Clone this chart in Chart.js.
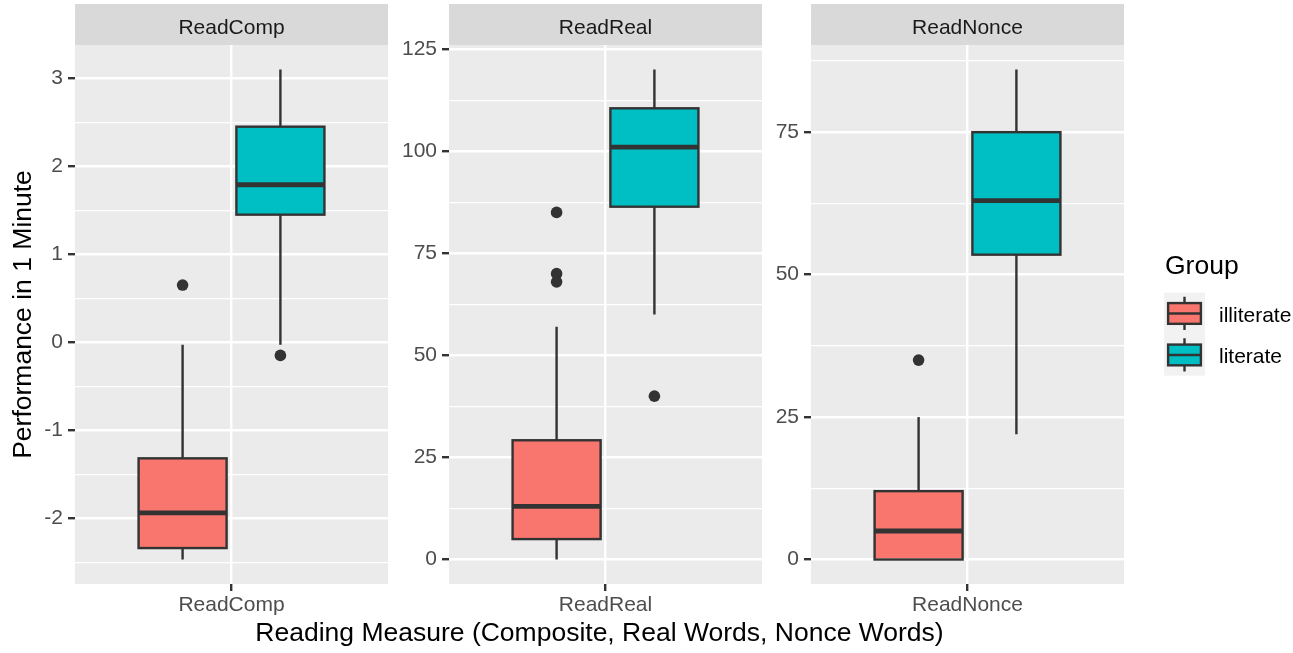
<!DOCTYPE html>
<html>
<head>
<meta charset="utf-8">
<title>Reading performance by literacy group</title>
<script src="https://cdn.jsdelivr.net/npm/chart.js@4.4.1/dist/chart.umd.min.js"></script>
<style>
  html, body { margin: 0; padding: 0; background: #ffffff; width: 1293px; height: 653px; overflow: hidden;
               font-family: "Liberation Sans", Arial, sans-serif; }
  canvas.panel { position: absolute; top: 0; }
  #xtitle { position: absolute; left: 0; top: 619px; width: 1199px; text-align: center;
            font-size: 26.5px; line-height: 26px; color: #000000; white-space: nowrap; }
</style>
</head>
<body>
<canvas id="panel0" class="panel" width="392" height="653" style="left:0px"></canvas>
<canvas id="panel1" class="panel" width="392" height="653" style="left:374px"></canvas>
<canvas id="panel2" class="panel" width="557" height="653" style="left:736px"></canvas>
<div id="xtitle">Reading Measure (Composite, Real Words, Nonce Words)</div>

<script>
// ---- data: one entry per reading measure ----
const measures = ['ReadComp', 'ReadReal', 'ReadNonce'];
const groups = ['illiterate', 'literate'];
const groupColors = ['#F8766D', '#00BFC4'];

// five-number summaries (whisker ends, quartiles, median) and outliers
const illiterateLow    = [-2.47, 0, 0];
const illiterateQ1     = [-2.34, 5, 0];
const illiterateMedian = [-1.94, 13, 5];
const illiterateQ3     = [-1.32, 29.2, 12];
const illiterateHigh   = [-0.03, 57, 25];
const illiterateOutliers = [[0.65], [85, 70, 68], [35]];

const literateLow    = [-0.03, 60, 22];
const literateQ1     = [1.45, 86.4, 53.5];
const literateMedian = [1.79, 101, 63];
const literateQ3     = [2.45, 110.5, 75];
const literateHigh   = [3.1, 120, 86];
const literateOutliers = [[-0.15], [40], []];

// labelled y breaks for each facet
const yTicks = [
  [-2, -1, 0, 1, 2, 3],
  [0, 25, 50, 75, 100, 125],
  [0, 25, 50, 75]
];

const yTitle = 'Performance in 1 Minute';
const legendTitle = 'Group';

// ---- look ----
Chart.defaults.font.family = '"Liberation Sans", Arial, sans-serif';
const FONT = '"Liberation Sans", Arial, sans-serif';
const INK = '#333333';
const LINE = 2.4;
const MEDIAN_LINE = 4.8;
const DOT_RADIUS = 5.8;

function summaries(i) {
  return [
    { low: illiterateLow[i], q1: illiterateQ1[i], med: illiterateMedian[i], q3: illiterateQ3[i], high: illiterateHigh[i], out: illiterateOutliers[i] },
    { low: literateLow[i], q1: literateQ1[i], med: literateMedian[i], q3: literateQ3[i], high: literateHigh[i], out: literateOutliers[i] }
  ];
}

// y limits: data range widened by 5% on each side
function yLimits(stats) {
  let lo = Infinity, hi = -Infinity;
  stats.forEach(s => {
    [s.low, s.high, ...s.out].forEach(v => { lo = Math.min(lo, v); hi = Math.max(hi, v); });
  });
  const pad = (hi - lo) * 0.05;
  return [lo - pad, hi + pad];
}

// major breaks plus half-step minor breaks inside the limits
function buildTicks(major, min, max) {
  const step = major[1] - major[0];
  const ticks = major.filter(v => v >= min && v <= max).map(v => ({ value: v }));
  for (let v = major[0] - step / 2; v <= max; v += step) {
    if (v >= min) ticks.push({ value: v, minor: true });
  }
  return ticks.sort((a, b) => a.value - b.value);
}

// panel background and facet strip
const facetPlugin = {
  id: 'facet',
  beforeDraw(chart, args, opts) {
    const { ctx, chartArea: a } = chart;
    ctx.save();
    ctx.fillStyle = '#EBEBEB';
    ctx.fillRect(a.left, a.top, a.right - a.left, a.bottom - a.top);
    ctx.fillStyle = '#D9D9D9';
    ctx.fillRect(a.left, 4, a.right - a.left, a.top - 4);
    ctx.fillStyle = '#1A1A1A';
    ctx.font = '21px ' + FONT;
    ctx.textAlign = 'center';
    ctx.textBaseline = 'alphabetic';
    ctx.fillText(opts.strip, (a.left + a.right) / 2, 33.5);
    ctx.restore();
  }
};

// whiskers, outliers, box outlines and medians on top of the floating bars
const boxPlugin = {
  id: 'boxDecor',
  beforeDatasetsDraw(chart, args, opts) {
    const { ctx } = chart;
    const y = chart.scales.y;
    ctx.save();
    ctx.strokeStyle = INK;
    ctx.fillStyle = INK;
    ctx.lineWidth = LINE;
    opts.stats.forEach((s, di) => {
      const el = chart.getDatasetMeta(di).data[0];
      ctx.beginPath();
      ctx.moveTo(el.x, y.getPixelForValue(s.high));
      ctx.lineTo(el.x, y.getPixelForValue(s.q3));
      ctx.moveTo(el.x, y.getPixelForValue(s.q1));
      ctx.lineTo(el.x, y.getPixelForValue(s.low));
      ctx.stroke();
      s.out.forEach(v => {
        ctx.beginPath();
        ctx.arc(el.x, y.getPixelForValue(v), DOT_RADIUS, 0, Math.PI * 2);
        ctx.fill();
      });
    });
    ctx.restore();
  },
  afterDatasetsDraw(chart, args, opts) {
    const { ctx } = chart;
    const y = chart.scales.y;
    ctx.save();
    ctx.strokeStyle = INK;
    opts.stats.forEach((s, di) => {
      const el = chart.getDatasetMeta(di).data[0];
      const half = el.width / 2;
      const top = y.getPixelForValue(s.q3);
      const bottom = y.getPixelForValue(s.q1);
      ctx.lineWidth = LINE;
      ctx.strokeRect(el.x - half, top, half * 2, bottom - top);
      ctx.lineWidth = MEDIAN_LINE;
      ctx.beginPath();
      const m = y.getPixelForValue(s.med);
      ctx.moveTo(el.x - half, m);
      ctx.lineTo(el.x + half, m);
      ctx.stroke();
    });
    ctx.restore();
  }
};

// fill legend with box glyphs, drawn in the right margin of the last panel
const legendPlugin = {
  id: 'groupLegend',
  afterDraw(chart, args, opts) {
    if (!opts.show) return;
    const { ctx } = chart;
    const ox = opts.originX;
    ctx.save();
    ctx.fillStyle = '#000000';
    ctx.font = '26.5px ' + FONT;
    ctx.textAlign = 'left';
    ctx.textBaseline = 'alphabetic';
    ctx.fillText(legendTitle, 1165 - ox, 273.5);
    const kx = 1164 - ox, kw = 41, kh = 41.5;
    groups.forEach((g, gi) => {
      const ky = 292.7 + gi * kh;
      ctx.fillStyle = '#F2F2F2';
      ctx.fillRect(kx, ky, kw, kh);
      const cx = kx + kw / 2;
      ctx.strokeStyle = INK;
      ctx.lineWidth = LINE;
      ctx.beginPath();
      ctx.moveTo(cx, ky + kh * 0.1); ctx.lineTo(cx, ky + kh * 0.25);
      ctx.moveTo(cx, ky + kh * 0.75); ctx.lineTo(cx, ky + kh * 0.9);
      ctx.stroke();
      ctx.fillStyle = groupColors[gi];
      const bx = kx + kw * 0.1, bw = kw * 0.8, by = ky + kh * 0.25, bh = kh * 0.5;
      ctx.fillRect(bx, by, bw, bh);
      ctx.strokeRect(bx, by, bw, bh);
      ctx.beginPath();
      ctx.moveTo(bx, ky + kh / 2); ctx.lineTo(bx + bw, ky + kh / 2);
      ctx.stroke();
      ctx.fillStyle = '#000000';
      ctx.font = '21px ' + FONT;
      ctx.fillText(g, 1219 - ox, ky + kh / 2 + 8.3);
    });
    ctx.restore();
  }
};

const canvasLeft = [0, 374, 736];
const rightPad = [4, 4, 169];

measures.forEach((measure, i) => {
  const stats = summaries(i);
  const [ymin, ymax] = yLimits(stats);
  const ticks = buildTicks(yTicks[i], ymin, ymax);

  new Chart(document.getElementById('panel' + i), {
    type: 'bar',
    data: {
      labels: [measure],
      datasets: groups.map((g, gi) => ({
        label: g,
        data: [[stats[gi].q1, stats[gi].q3]],
        backgroundColor: groupColors[gi],
        borderWidth: 0,
        categoryPercentage: 0.625,
        barPercentage: 0.9
      }))
    },
    plugins: [facetPlugin, boxPlugin, legendPlugin],
    options: {
      responsive: false,
      animation: false,
      layout: { padding: { top: 45, left: 0, right: rightPad[i], bottom: 0 } },
      plugins: {
        legend: { display: false },
        tooltip: { enabled: false },
        facet: { strip: measure },
        boxDecor: { stats: stats },
        groupLegend: { show: i === 2, originX: canvasLeft[i] }
      },
      scales: {
        x: {
          offset: true,
          border: { display: false },
          grid: { offset: false, color: '#FFFFFF', lineWidth: 2.4, drawTicks: true,
                  tickLength: 7, tickColor: INK, tickWidth: 2.4 },
          ticks: { color: '#4D4D4D', font: { size: 21 }, padding: 2 },
          afterFit: s => { s.height = 69; }
        },
        y: {
          min: ymin,
          max: ymax,
          bounds: 'data',
          border: { display: false },
          afterBuildTicks: s => { s.ticks = ticks.map(t => ({ ...t })); },
          afterFit: s => { s.width = 75; },
          grid: {
            color: '#FFFFFF',
            lineWidth: c => (c.tick && c.tick.minor ? 1.2 : 2.4),
            drawTicks: true,
            tickLength: 7,
            tickWidth: 2.4,
            tickColor: c => (c.tick && c.tick.minor ? 'rgba(0,0,0,0)' : INK)
          },
          ticks: {
            autoSkip: false,
            color: '#4D4D4D',
            font: { size: 21 },
            padding: 5,
            callback: (v, idx, arr) => (arr[idx].minor ? '' : String(v))
          },
          title: {
            display: i === 0,
            text: yTitle,
            color: '#000000',
            font: { size: 26.5 },
            padding: { top: 8, bottom: 0 }
          }
        }
      }
    }
  });
});
</script>
</body>
</html>
